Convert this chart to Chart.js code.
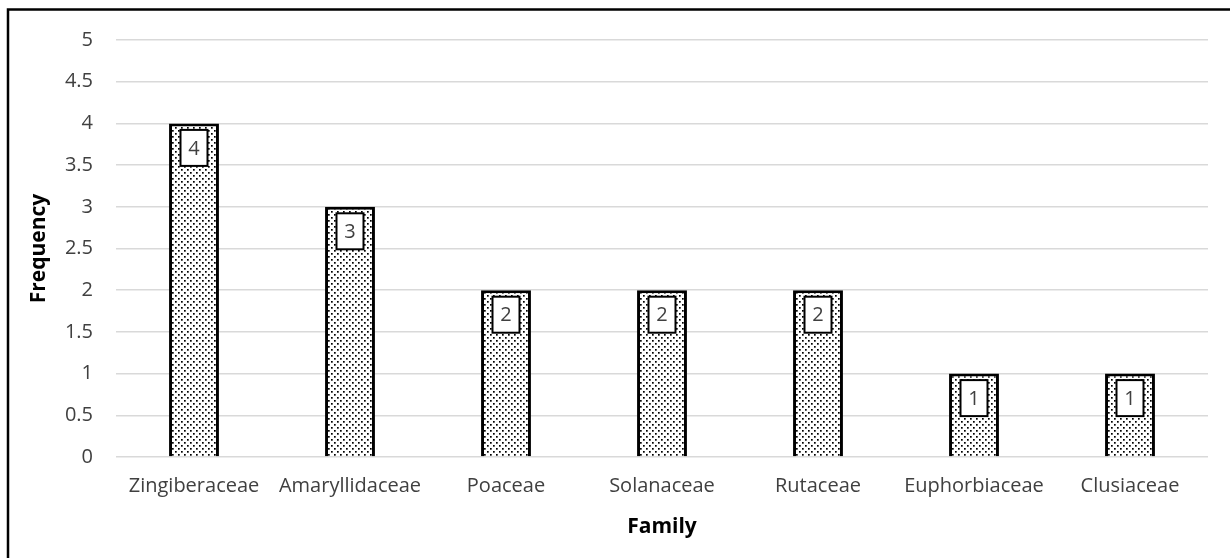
<!DOCTYPE html>
<html>
<head>
<meta charset="utf-8">
<script src="https://cdn.jsdelivr.net/npm/chart.js@4/dist/chart.umd.min.js"></script>
<style>
  html, body { margin: 0; padding: 0; background: #fff; }
  #wrap { width: 1230px; height: 558px; position: relative; }
</style>
</head>
<body>
<div id="wrap"><canvas id="c" width="1230" height="558"></canvas></div>
<script>
// Plant families and how many species belong to each
const families = ['Zingiberaceae', 'Amaryllidaceae', 'Poaceae', 'Solanaceae', 'Rutaceae', 'Euphorbiaceae', 'Clusiaceae'];
const frequency = [4, 3, 2, 2, 2, 1, 1];
const yTicks = [0, 0.5, 1, 1.5, 2, 2.5, 3, 3.5, 4, 4.5, 5];

const FONT = '"Open Sans", Lato, sans-serif';

// Dotted fill tile for the bars
function dotPattern() {
  const t = document.createElement('canvas');
  t.width = 6; t.height = 6;
  const g = t.getContext('2d');
  g.fillStyle = '#fff';
  g.fillRect(0, 0, 6, 6);
  g.fillStyle = '#000';
  g.fillRect(1, 1, 1.7, 1.7);
  g.fillRect(4, 4, 1.7, 1.7);
  return g.createPattern(t, 'repeat');
}

// Frame around the figure
const framePlugin = {
  id: 'frame',
  afterDraw(chart) {
    const ctx = chart.ctx;
    ctx.save();
    ctx.strokeStyle = '#000';
    ctx.lineWidth = 2.5;
    ctx.strokeRect(8, 9.5, 1300, 700);
    ctx.restore();
  }
};

// Boxed value labels inside the top of each bar
const boxLabelPlugin = {
  id: 'boxLabels',
  afterDatasetsDraw(chart) {
    const ctx = chart.ctx;
    const meta = chart.getDatasetMeta(0);
    ctx.save();
    meta.data.forEach((bar, i) => {
      const w = 27, h = 36;
      const x = bar.x - w / 2;
      const y = bar.y + 6.5;
      ctx.fillStyle = '#fff';
      ctx.fillRect(x, y, w, h);
      ctx.strokeStyle = '#000';
      ctx.lineWidth = 2;
      ctx.strokeRect(x, y, w, h);
      ctx.fillStyle = '#404040';
      ctx.font = '20px ' + FONT;
      ctx.textAlign = 'center';
      ctx.textBaseline = 'middle';
      ctx.fillText(String(frequency[i]), bar.x, y + h / 2 + 1);
    });
    ctx.restore();
  }
};

new Chart(document.getElementById('c'), {
  type: 'bar',
  data: {
    labels: families,
    datasets: [{
      data: frequency,
      backgroundColor: dotPattern(),
      borderColor: '#000',
      borderWidth: 3,
      borderSkipped: 'bottom',
      barPercentage: 0.32,
      categoryPercentage: 1
    }]
  },
  options: {
    responsive: false,
    animation: false,
    devicePixelRatio: 1,
    layout: { padding: { left: 10, right: 22, top: 40, bottom: 0 } },
    plugins: { legend: { display: false }, tooltip: { enabled: false } },
    scales: {
      x: {
        grid: { display: false, drawTicks: false },
        border: { display: false },
        ticks: { color: '#404040', font: { family: FONT, size: 20 }, padding: 17, maxRotation: 0, autoSkip: false },
        title: { display: true, text: 'Family', color: '#000', font: { family: FONT, size: 21, weight: 'bold' }, padding: { top: 0, bottom: 18 } },
        afterFit(s) { s.height = 101; }
      },
      y: {
        min: 0, max: 5,
        afterBuildTicks(s) { s.ticks = yTicks.map(v => ({ value: v })); },
        grid: { color: '#d9d9d9', lineWidth: 1.5, drawTicks: false },
        border: { display: false },
        ticks: { color: '#404040', font: { family: FONT, size: 20 }, padding: 23, callback: v => String(v) },
        title: { display: true, text: 'Frequency', color: '#000', font: { family: FONT, size: 21, weight: 'bold' }, padding: { top: 16, bottom: 0 } },
        afterFit(s) { s.width = 106; }
      }
    }
  },
  plugins: [framePlugin, boxLabelPlugin]
});
</script>
</body>
</html>
